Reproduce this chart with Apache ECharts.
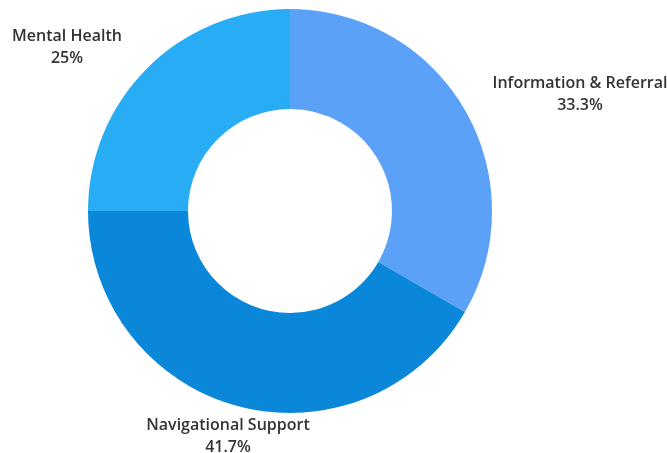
<!DOCTYPE html>
<html>
<head>
<meta charset="utf-8">
<script src="https://cdn.jsdelivr.net/npm/echarts@6/dist/echarts.min.js"></script>
<style>html,body{margin:0;padding:0;background:#fff;}#c{width:667px;height:453px;}</style>
</head>
<body>
<div id="c"></div>
<script>
var categories = ['Information & Referral', 'Navigational Support', 'Mental Health'];
var values = [4, 5, 3];
var colors = ['#5aa1f7', '#0a87d9', '#28adf4'];
var labelSpots = [[580, 94], [228, 436], [67, 47]];

var chart = echarts.init(document.getElementById('c'));
chart.setOption({
  animation: false,
  series: [{
    type: 'pie',
    center: [290, 211],
    radius: [102, 202],
    startAngle: 90,
    clockwise: true,
    percentPrecision: 1,
    data: categories.map(function (n, i) {
      return { name: n, value: values[i], itemStyle: { color: colors[i] } };
    }),
    label: {
      show: true,
      position: 'outside',
      formatter: '{b}\n{d}%',
      fontFamily: 'Open Sans',
      fontWeight: 600,
      fontSize: 16,
      lineHeight: 22,
      color: '#333',
      align: 'center',
      overflow: 'none',
      edgeDistance: 0
    },
    labelLine: { show: false },
    labelLayout: function (p) {
      var s = labelSpots[p.dataIndex];
      return { x: s[0], y: s[1], align: 'center', verticalAlign: 'middle' };
    },
    emphasis: { disabled: true }
  }]
});
</script>
</body>
</html>
